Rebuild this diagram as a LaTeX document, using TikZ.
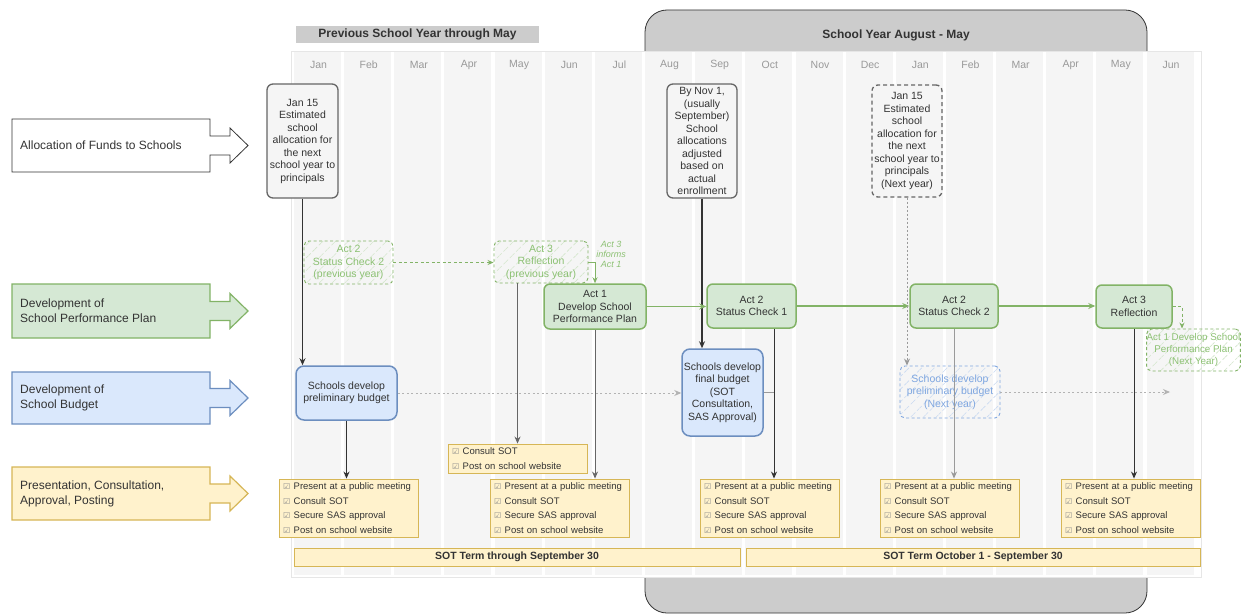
\documentclass[tikz,border=0pt]{standalone}
\usepackage{fontspec}
\setmainfont{Liberation Sans}
\newfontfamily\symfont{DejaVu Sans}
\usetikzlibrary{arrows.meta,patterns.meta}
\definecolor{colgray}{HTML}{F5F5F5}
\definecolor{hdrgray}{HTML}{CCCCCC}
\definecolor{txtc}{HTML}{333333}
\definecolor{monthc}{HTML}{999999}
\definecolor{darkl}{HTML}{333333}
\definecolor{midl}{HTML}{666666}
\definecolor{lightl}{HTML}{9A9A9A}
\definecolor{dotl}{HTML}{B3B3B3}
\definecolor{greenf}{HTML}{D5E8D4}
\definecolor{greenb}{HTML}{82B366}
\definecolor{greent}{HTML}{8CC173}
\definecolor{greenh}{HTML}{D3E6CC}
\definecolor{bluef}{HTML}{DAE8FC}
\definecolor{blueb}{HTML}{6C8EBF}
\definecolor{bluet}{HTML}{7EA6E0}
\definecolor{blueh}{HTML}{C9DAF2}
\definecolor{yellowf}{HTML}{FFF2CC}
\definecolor{yellowb}{HTML}{D6B656}
\definecolor{cbgray}{HTML}{8A8A8A}
\definecolor{framel}{HTML}{E6E6E6}
\newcommand\cbx{{\symfont\fontsize{8}{8}\selectfont\color{cbgray}☑}\hspace{3.5pt}}
\tikzset{
  txt/.style={font=\fontsize{10.5}{12.5}\selectfont, text=txtc, align=center, inner sep=0pt},
  allocbox/.style={txt, draw=midl, line width=1.3pt, fill=colgray, rounded corners=6pt},
  allocdash/.style={txt, draw=midl, line width=1.3pt, fill=colgray, rounded corners=6pt, dash pattern=on 4pt off 3pt},
  greenbox/.style={txt, draw=greenb, fill=greenf, line width=1.5pt, rounded corners=6pt},
  bluebox/.style={txt, draw=blueb, fill=bluef, line width=1.5pt, rounded corners=8pt},
  hatchg/.style={txt, text=greent, draw=greenb, line width=0.9pt, dash pattern=on 3pt off 2.5pt, rounded corners=5pt,
    pattern={Lines[angle=45,distance=9pt,line width=0.6pt]}, pattern color=greenh},
  hatchb/.style={txt, text=bluet, draw=bluet, line width=0.9pt, dash pattern=on 3pt off 2.5pt, rounded corners=5pt,
    pattern={Lines[angle=45,distance=9pt,line width=0.6pt]}, pattern color=blueh},
  checkl/.style={draw=yellowb, fill=yellowf, line width=0.9pt, font=\fontsize{9.5}{14.5}\selectfont, text=txtc,
    align=left, text width=131pt, inner xsep=4pt, inner ysep=0pt},
  sotbar/.style={draw=yellowb, fill=yellowf, line width=0.9pt, font=\bfseries\fontsize{10.5}{12}\selectfont, text=txtc,
    minimum height=18pt, inner sep=0pt},
  monthlbl/.style={font=\fontsize{10.5}{12}\selectfont, text=monthc},
  lanelbl/.style={anchor=west, font=\fontsize{12}{15}\selectfont, text=txtc, align=left, inner sep=0pt},
  darkarrow/.style={draw=darkl, line width=1.3pt, -{Stealth[length=7pt,width=6pt]}},
  thinarrow/.style={draw=darkl, line width=0.9pt, -{Stealth[length=7pt,width=6pt]}},
  midarrow/.style={draw=midl, line width=0.9pt, -{Stealth[length=7pt,width=6pt]}},
  lightarrow/.style={draw=lightl, line width=1pt, -{Stealth[length=7pt,width=6pt]}},
  greenarrow/.style={draw=greenb, line width=1.2pt, -{Stealth[length=7pt,width=6pt]}},
  greenthin/.style={draw=greenb, line width=0.8pt, -{Stealth[length=6pt,width=5pt]}},
  greendash/.style={draw=greenb, line width=0.9pt, dash pattern=on 3pt off 2.5pt, -{Stealth[length=6pt,width=5pt]}},
  graydot/.style={draw=dotl, line width=1pt, dash pattern=on 2pt off 2.5pt, -{Stealth[length=7pt,width=6pt]}},
  graydotdark/.style={draw=lightl, line width=1pt, dash pattern=on 2pt off 2pt, -{Stealth[length=7pt,width=6pt]}},
}
\begin{document}
\begin{tikzpicture}[x=1pt,y=-1pt]
\useasboundingbox (0,0) rectangle (1241,615);
\fill[white] (0,0) rectangle (1241,615);

% big rounded header panel
\draw[fill=hdrgray, draw=darkl, line width=0.8pt, rounded corners=22pt] (645,10) rectangle (1147,613);
\node[font=\bfseries\fontsize{12}{14}\selectfont, text=txtc] (curhdr) at (896,35) {School Year August - May};
\node[fill=hdrgray, minimum width=243pt, minimum height=17pt, inner sep=0pt,
      font=\bfseries\fontsize{12}{14}\selectfont, text=txtc] (prevhdr) at (417.5,34.5) {Previous School Year through May};

% timeline background
\draw[fill=white, draw=framel, line width=0.8pt] (291,51) rectangle (1201,577);
\foreach \i/\m in {0/Jan,1/Feb,2/Mar,3/Apr,4/May,5/Jun,6/Jul,7/Aug,8/Sep,9/Oct,10/Nov,11/Dec,12/Jan,13/Feb,14/Mar,15/Apr,16/May,17/Jun}{
  \fill[colgray] ({294+50.15*\i},52) rectangle ++(47,523);
  \node[monthlbl] (m\i) at ({318.5+50.15*\i},65) {\m};
}

% lane labels (arrows)
\draw[fill=white, draw=darkl, line width=0.8pt] (12,119) -- (210,119) -- (210,136) -- (230,136) -- (230,128) -- (248,145.5) -- (230,163) -- (230,155) -- (210,155) -- (210,172) -- (12,172) -- cycle;
\node[lanelbl] (lane1) at (20,145.5) {Allocation of Funds to Schools};
\draw[fill=greenf, draw=greenb, line width=1.2pt] (12,284) -- (210,284) -- (210,301.5) -- (230,301.5) -- (230,293.5) -- (248,311) -- (230,328.5) -- (230,320.5) -- (210,320.5) -- (210,338) -- (12,338) -- cycle;
\node[lanelbl] (lane2) at (20,311) {Development of\\School Performance Plan};
\draw[fill=bluef, draw=blueb, line width=1.2pt] (12,372) -- (210,372) -- (210,388.5) -- (230,388.5) -- (230,380.5) -- (248,398) -- (230,415.5) -- (230,407.5) -- (210,407.5) -- (210,424) -- (12,424) -- cycle;
\node[lanelbl] (lane3) at (20,398) {Development of\\School Budget};
\draw[fill=yellowf, draw=yellowb, line width=1.2pt] (12,467) -- (210,467) -- (210,484) -- (230,484) -- (230,476) -- (248,493.5) -- (230,511) -- (230,503) -- (210,503) -- (210,520) -- (12,520) -- cycle;
\node[lanelbl] (lane4) at (20,493.5) {Presentation, Consultation,\\Approval, Posting};

% allocation boxes
\node[allocbox, minimum width=71pt, minimum height=114pt] (jan15) at (302.5,141) {Jan 15\\Estimated\\school\\allocation for\\the next\\school year to\\principals};
\node[allocbox, minimum width=70pt, minimum height=114pt] (nov1) at (702,141) {By Nov 1,\\(usually\\September)\\School\\allocations\\adjusted\\based on\\actual\\enrollment};
\node[allocdash, minimum width=70pt, minimum height=112pt] (jan15n) at (907,141) {Jan 15\\Estimated\\school\\allocation for\\the next\\school year to\\principals\\(Next year)};

% performance plan boxes
\node[hatchg, minimum width=89pt, minimum height=43pt] (act2prev) at (348.5,262.5) {Act 2\\Status Check 2\\(previous year)};
\node[hatchg, minimum width=94pt, minimum height=42pt] (act3prev) at (541,262) {Act 3\\Reflection\\(previous year)};
\node[font=\itshape\fontsize{9}{10}\selectfont, text=greent, align=center, inner sep=0pt] (informs) at (611,254) {Act 3\\informs\\Act 1};
\node[greenbox, minimum width=102pt, minimum height=45pt] (act1) at (595,306.5) {Act 1\\Develop School\\Performance Plan};
\node[greenbox, minimum width=89pt, minimum height=44pt] (sc1) at (751.5,306) {Act 2\\Status Check 1};
\node[greenbox, minimum width=88pt, minimum height=44pt] (sc2) at (954,306) {Act 2\\Status Check 2};
\node[greenbox, minimum width=76pt, minimum height=43pt] (act3) at (1134,306.5) {Act 3\\Reflection};
\node[hatchg, font=\fontsize{9.8}{12}\selectfont, minimum width=93pt, minimum height=42pt] (act1n) at (1193.5,350) {Act 1 Develop School\\Performance Plan\\(Next Year)};

% budget boxes
\node[bluebox, minimum width=101pt, minimum height=54pt] (prelim) at (346.5,393) {Schools develop\\preliminary budget};
\node[bluebox, minimum width=81pt, minimum height=87pt] (final) at (722.5,392.5) {Schools develop\\final budget\\(SOT\\Consultation,\\SAS Approval)};
\node[hatchb, minimum width=100pt, minimum height=52pt] (prelimn) at (950,392) {Schools develop\\preliminary budget\\(Next year)};

% checklists
\node[checkl, minimum height=58pt] (chk1) at (348.5,508) {\cbx Present at a public meeting\\\cbx Consult SOT\\\cbx Secure SAS approval\\\cbx Post on school website};
\node[checkl, minimum height=29pt] (chk2s) at (517.5,458.5) {\cbx Consult SOT\\\cbx Post on school website};
\node[checkl, minimum height=58pt] (chk2) at (559.5,508) {\cbx Present at a public meeting\\\cbx Consult SOT\\\cbx Secure SAS approval\\\cbx Post on school website};
\node[checkl, minimum height=58pt] (chk3) at (769.5,508) {\cbx Present at a public meeting\\\cbx Consult SOT\\\cbx Secure SAS approval\\\cbx Post on school website};
\node[checkl, minimum height=58pt] (chk4) at (949.5,508) {\cbx Present at a public meeting\\\cbx Consult SOT\\\cbx Secure SAS approval\\\cbx Post on school website};
\node[checkl, minimum height=58pt] (chk5) at (1130.5,508) {\cbx Present at a public meeting\\\cbx Consult SOT\\\cbx Secure SAS approval\\\cbx Post on school website};

% SOT term bars
\node[sotbar, minimum width=446pt] (sot1) at (517,557) {SOT Term through September 30};
\node[sotbar, minimum width=454pt] (sot2) at (973,557) {SOT Term October 1 - September 30};

% helper coordinates
\coordinate (x3) at (774,0);
\coordinate (prelimend) at (1170,392);

% connectors
\draw[darkarrow] (jan15.south) -- (jan15.south |- prelim.north);
\draw[thinarrow] (prelim.south) -- (prelim.south |- chk1.north);
\draw[greendash] (act2prev.east) -- (act2prev.east -| act3prev.west);
\draw[greenthin] (act3prev.east) -| (act1.north);
\draw[midarrow] (chk2s.north |- act3prev.south) -- (chk2s.north);
\draw[midarrow] (act1.south) -- (act1.south |- chk2.north);
\draw[graydot] (prelim.east) -- (prelim.east -| final.west);
\draw[darkarrow] (nov1.south) -- (nov1.south |- final.north);
\draw[greenarrow] (act1.east) -- (act1.east -| sc1.west);
\draw[draw=lightl, line width=1pt] (final.east) -- (final.east -| x3);
\draw[thinarrow] (sc1.south -| x3) -- (chk3.north -| x3);
\draw[greenarrow] (sc1.east) -- (sc1.east -| sc2.west);
\draw[graydotdark] (jan15n.south) -- (jan15n.south |- prelimn.north);
\draw[lightarrow] (sc2.south) -- (sc2.south |- chk4.north);
\draw[graydot] (prelimn.east) -- (prelimend);
\draw[greenarrow] (sc2.east) -- (sc2.east -| act3.west);
\draw[greendash] (act3.east) -| ([xshift=-11.5pt]act1n.north);
\draw[thinarrow] (act3.south) -- (act3.south |- chk5.north);
\end{tikzpicture}
\end{document}
